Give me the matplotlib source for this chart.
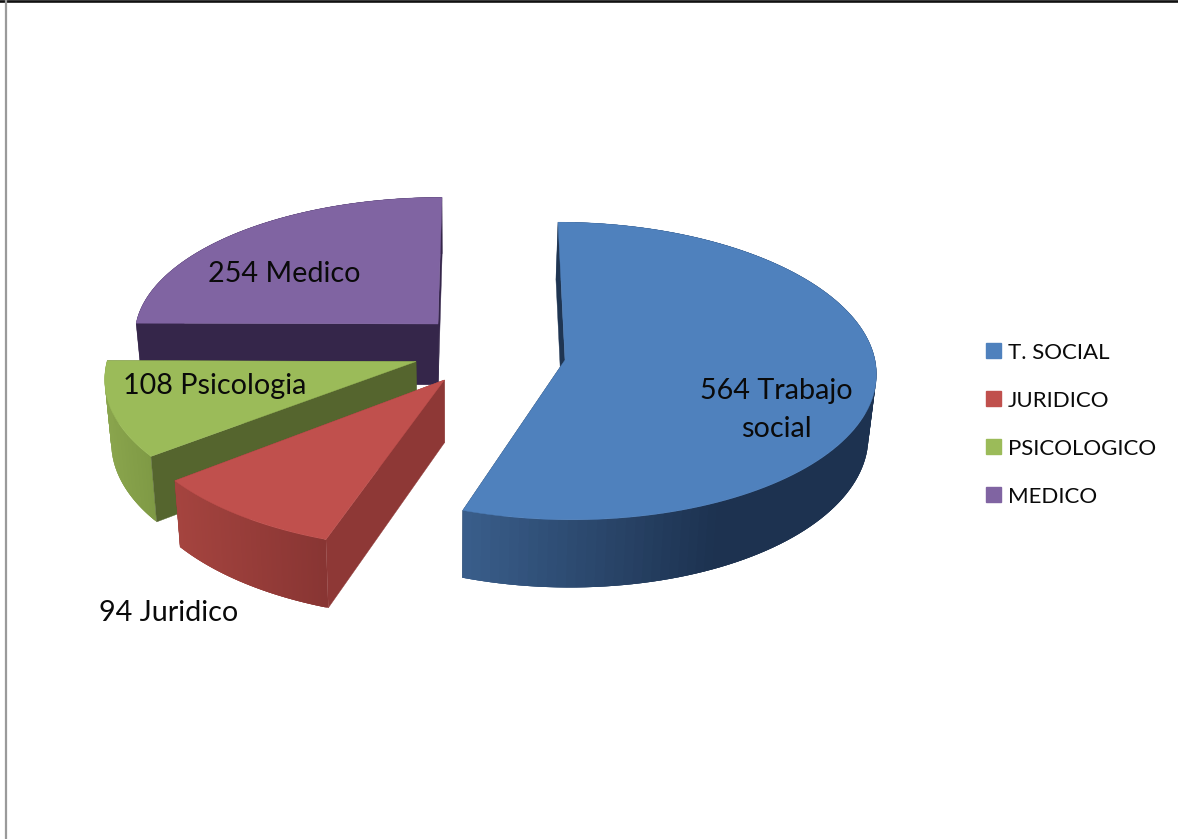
import numpy as np
import matplotlib
matplotlib.use('Agg')
import matplotlib.pyplot as plt
from matplotlib.colors import to_rgb
from matplotlib.patches import Patch

# data
legend_labels = ['T. SOCIAL', 'JURIDICO', 'PSICOLOGICO', 'MEDICO']
values = [564, 94, 108, 254]
slice_labels = ['564 Trabajo\nsocial', '94 Juridico', '108 Psicologia', '254 Medico']

colors = ['#4F81BD', '#C0504D', '#9BBB59', '#8064A2']
cut_colors = ['#1F3552', '#8E3836', '#55652E', '#35264A']
wall_left = ['#3A5F8C', '#A5443F', '#8AA54D', '#35264A']
wall_right = ['#1D3250', '#883533', '#7F9A45', '#35264A']

# layout of each exploded slice, in pixels: apex x, apex y, rx, ry, lean
layout = [(565, 360, 310, 148, -7),
          (444.3, 380, 321, 157, 6),
          (416, 361.5, 309, 148, 15),
          (438, 324, 302, 136, 4)]
label_pos = [(776, 410), (169, 613), (215, 386), (284, 274)]

PERSP = 0.0737
VANISH_X = 450
SHRINK = 0.981


def rim(apex_x, apex_y, rx, ry, lean, ang):
    # angle is clockwise from the top of the pie, in degrees
    u = np.sin(np.radians(ang))
    v = np.cos(np.radians(ang))
    w = 1 + PERSP * v
    return apex_x + rx * u / w + lean * v, apex_y - ry * v / w


def drop(x, y):
    # same point on the underside of the pie
    return VANISH_X + (x - VANISH_X) * SHRINK, y + 60 + 0.035 * (y - 300)


def cut_face(ax, apex_x, apex_y, px, py, color):
    bx, by = drop(px, py)
    ax_, ay_ = drop(apex_x, apex_y)
    ax.fill([apex_x, px, bx, ax_], [apex_y, py, by, ay_], color=color, lw=0.3)


plt.rcParams['font.family'] = ['Lato', 'DejaVu Sans']
fig = plt.figure(figsize=(11.78, 8.39), dpi=100)
ax = fig.add_axes([0, 0, 1, 1])
ax.set_xlim(0, 1178)
ax.set_ylim(839, 0)
ax.axis('off')

ax.plot([0, 1178], [1, 1], color='#111111', lw=1.9)
ax.plot([6, 6], [0, 839], color='#9A9A9A', lw=1.6)

ends = np.cumsum(values) / sum(values) * 360
starts = np.concatenate([[0], ends[:-1]])

# back slices first so the nearer ones cover them
for i in [3, 2, 1, 0]:
    apex_x, apex_y, rx, ry, lean = layout[i]
    angs = np.linspace(starts[i], ends[i], 120)
    xs, ys = rim(apex_x, apex_y, rx, ry, lean, angs)

    # far cut face, only a sliver shows
    cut_face(ax, apex_x, apex_y, xs[-1], ys[-1], cut_colors[i])

    # outer wall, shaded strip by strip, each strip lapping the next to hide seams
    bxs, bys = drop(xs, ys)
    left = np.array(to_rgb(wall_left[i]))
    right = np.array(to_rgb(wall_right[i]))
    for j in range(len(angs) - 1):
        t = (xs[j] - xs.min()) / (xs.max() - xs.min())
        if i == 0:
            t = min(t * 1.6, 1)
        c = tuple(left + (right - left) * t)
        k = min(j + 3, len(angs) - 1)
        ax.fill(np.r_[xs[j:k + 1], bxs[j:k + 1][::-1]],
                np.r_[ys[j:k + 1], bys[j:k + 1][::-1]], color=c, lw=0)

    cut_face(ax, apex_x, apex_y, xs[0], ys[0], cut_colors[i])

    # top face
    ax.fill(np.r_[apex_x, xs], np.r_[apex_y, ys], color=colors[i], lw=0.3)

for i in range(4):
    ax.text(label_pos[i][0], label_pos[i][1], slice_labels[i], ha='center', va='center',
            fontsize=20.7, color='#0a0a0a', linespacing=1.6)

handles = [Patch(color=c) for c in colors]
ax.legend(handles, legend_labels, frameon=False, fontsize=16, loc='upper left',
          bbox_to_anchor=(0.8371, 0.5917), borderaxespad=0, borderpad=0,
          handlelength=0.68, handleheight=0.68, handletextpad=0.3, labelspacing=1.26,
          labelcolor='#0a0a0a')

fig.savefig('out.png', dpi=100)
